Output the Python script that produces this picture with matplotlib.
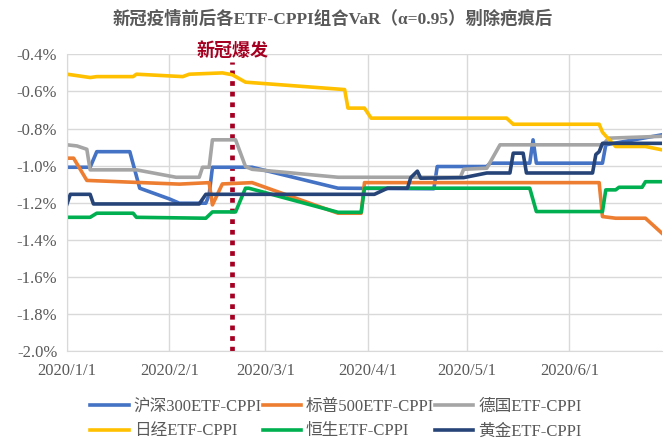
import pandas as pd
import matplotlib.pyplot as plt
import matplotlib.dates as mdates
from matplotlib.ticker import FuncFormatter

# values in % (breakpoints of each series)
hs300_dates = ['2020-01-01', '2020-01-08', '2020-01-10', '2020-01-20', '2020-01-23', '2020-02-01',
               '2020-02-04', '2020-02-12', '2020-02-13', '2020-02-14', '2020-02-26', '2020-03-23',
               '2020-04-21', '2020-04-22', '2020-05-07', '2020-05-08', '2020-05-20', '2020-05-21',
               '2020-05-22', '2020-06-11', '2020-06-12', '2020-06-29']
hs300_var = [-1.009, -1.009, -0.925, -0.925, -1.122, -1.18,
             -1.203, -1.203, -1.158, -1.009, -1.009, -1.122,
             -1.125, -1.005, -1.005, -0.987, -0.987, -0.861,
             -0.987, -0.987, -0.888, -0.834]

sp500_dates = ['2020-01-01', '2020-01-03', '2020-01-07', '2020-02-04', '2020-02-13', '2020-02-14',
               '2020-02-17', '2020-02-26', '2020-03-23', '2020-03-30', '2020-03-31', '2020-06-10',
               '2020-06-11', '2020-06-15', '2020-06-24', '2020-06-29']
sp500_var = [-0.96, -0.96, -1.08, -1.10, -1.092, -1.212,
             -1.099, -1.092, -1.257, -1.257, -1.092, -1.092,
             -1.275, -1.284, -1.284, -1.365]

dax_dates = ['2020-01-01', '2020-01-04', '2020-01-07', '2020-01-08', '2020-01-22', '2020-02-03',
             '2020-02-10', '2020-02-11', '2020-02-13', '2020-02-14', '2020-02-21', '2020-02-24',
             '2020-02-26', '2020-03-23', '2020-04-29', '2020-04-30', '2020-05-07', '2020-05-11',
             '2020-06-11', '2020-06-13', '2020-06-29']
dax_var = [-0.888, -0.894, -0.912, -1.023, -1.023, -1.063,
           -1.063, -1.009, -1.009, -0.861, -0.861, -1.005,
           -1.02, -1.063, -1.063, -1.02, -1.014, -0.888,
           -0.888, -0.852, -0.842]

nikkei_dates = ['2020-01-01', '2020-01-08', '2020-01-10', '2020-01-21', '2020-01-22', '2020-02-05',
                '2020-02-07', '2020-02-17', '2020-02-20', '2020-02-24', '2020-03-25', '2020-03-26',
                '2020-03-31', '2020-04-02', '2020-05-13', '2020-05-15', '2020-06-10', '2020-06-11',
                '2020-06-12', '2020-06-15', '2020-06-24', '2020-06-29']
nikkei_var = [-0.507, -0.525, -0.52, -0.52, -0.507, -0.52,
              -0.507, -0.50, -0.51, -0.55, -0.59, -0.69,
              -0.69, -0.744, -0.744, -0.777, -0.777, -0.82,
              -0.84, -0.897, -0.897, -0.915]

hsi_dates = ['2020-01-01', '2020-01-08', '2020-01-10', '2020-01-21', '2020-01-22', '2020-02-12',
             '2020-02-14', '2020-02-21', '2020-02-24', '2020-02-25', '2020-03-23', '2020-03-30',
             '2020-03-31', '2020-05-20', '2020-05-22', '2020-06-11', '2020-06-12', '2020-06-15',
             '2020-06-16', '2020-06-23', '2020-06-24', '2020-06-29']
hsi_var = [-1.279, -1.279, -1.257, -1.257, -1.279, -1.284,
           -1.25, -1.25, -1.122, -1.122, -1.252, -1.252,
           -1.122, -1.122, -1.248, -1.248, -1.131, -1.131,
           -1.117, -1.117, -1.087, -1.087]

gold_dates = ['2020-01-01', '2020-01-02', '2020-01-08', '2020-01-09', '2020-02-10', '2020-02-12',
              '2020-04-03', '2020-04-07', '2020-04-13', '2020-04-14', '2020-04-16', '2020-04-17',
              '2020-04-30', '2020-05-07', '2020-05-14', '2020-05-15', '2020-05-18', '2020-05-19',
              '2020-06-08', '2020-06-09', '2020-06-10', '2020-06-11', '2020-06-29']
gold_var = [-1.207, -1.155, -1.155, -1.207, -1.207, -1.155,
            -1.155, -1.122, -1.122, -1.065, -1.03, -1.068,
            -1.065, -1.04, -1.04, -0.933, -0.933, -1.04,
            -1.04, -0.94, -0.925, -0.88, -0.88]

labels = ['沪深300ETF-CPPI', '标普500ETF-CPPI', '德国ETF-CPPI',
          '日经ETF-CPPI', '恒生ETF-CPPI', '黄金ETF-CPPI']
colors = ['#4472C4', '#ED7D31', '#A5A5A5', '#FFC000', '#00B050', '#264478']
series = [(hs300_dates, hs300_var), (sp500_dates, sp500_var), (dax_dates, dax_var),
          (nikkei_dates, nikkei_var), (hsi_dates, hsi_var), (gold_dates, gold_var)]

month_ticks = ['2020-01-01', '2020-02-01', '2020-03-01', '2020-04-01', '2020-05-01', '2020-06-01']
outbreak_date = '2020-02-20'

fonts = ['Liberation Serif', 'Noto Sans CJK SC']
plt.rcParams['font.family'] = fonts
txt_color = '#595959'

fig = plt.figure(figsize=(6.7, 4.42), dpi=100)
ax = fig.add_axes([0.1, 0.206, 0.888, 0.671])

handles = []
for (d, v), lab, c in zip(series, labels, colors):
    h, = ax.plot(pd.to_datetime(d), v, color=c, lw=2.6, label=lab, solid_joinstyle='round')
    handles.append(h)

# outbreak marker
ob = pd.to_datetime(outbreak_date)
ax.plot([ob, ob], [-2.0, -0.44], color='#A50021', lw=3.4, linestyle=(0, (1, 1.25)), zorder=1)
ax.text(ob, -0.38, '新冠爆发', color='#A50021', fontsize=13, fontweight='bold',
        ha='center', va='center')

ax.set_xlim(pd.Timestamp('2020-01-01'), pd.Timestamp('2020-06-29'))
ax.set_ylim(-2.0, -0.4)
ax.set_yticks([-2.0, -1.8, -1.6, -1.4, -1.2, -1.0, -0.8, -0.6, -0.4])
ax.yaxis.set_major_formatter(FuncFormatter(lambda y, p: f'{y:.1f}%'))
ax.set_xticks(pd.to_datetime(month_ticks))
ax.xaxis.set_major_formatter(FuncFormatter(
    lambda x, p: '{0.year}/{0.month}/{0.day}'.format(mdates.num2date(x))))

ax.grid(True, color='#D9D9D9', lw=1)
ax.set_axisbelow(True)
for s in ['top', 'right']:
    ax.spines[s].set_visible(False)
for s in ['left', 'bottom']:
    ax.spines[s].set_color('#D9D9D9')
ax.tick_params(length=0, labelsize=12, labelcolor=txt_color)
ax.tick_params(axis='x', pad=9)
ax.tick_params(axis='y', pad=7)

fig.text(0.497, 0.958, '新冠疫情前后各ETF-CPPI组合VaR（α=0.95）剔除疤痕后',
         ha='center', va='center', fontsize=12.5, fontweight='bold', color=txt_color)

# legend fills column-wise, so reorder to read row by row
order = [0, 3, 1, 4, 2, 5]
ax.legend([handles[i] for i in order], [labels[i] for i in order],
          loc='upper center', bbox_to_anchor=(0.452, -0.112), ncol=3, frameon=False,
          fontsize=12, handlelength=2.3, handletextpad=0.3, columnspacing=0.05,
          labelcolor=txt_color, labelspacing=0.5)

fig.savefig('out.png', dpi=100)
